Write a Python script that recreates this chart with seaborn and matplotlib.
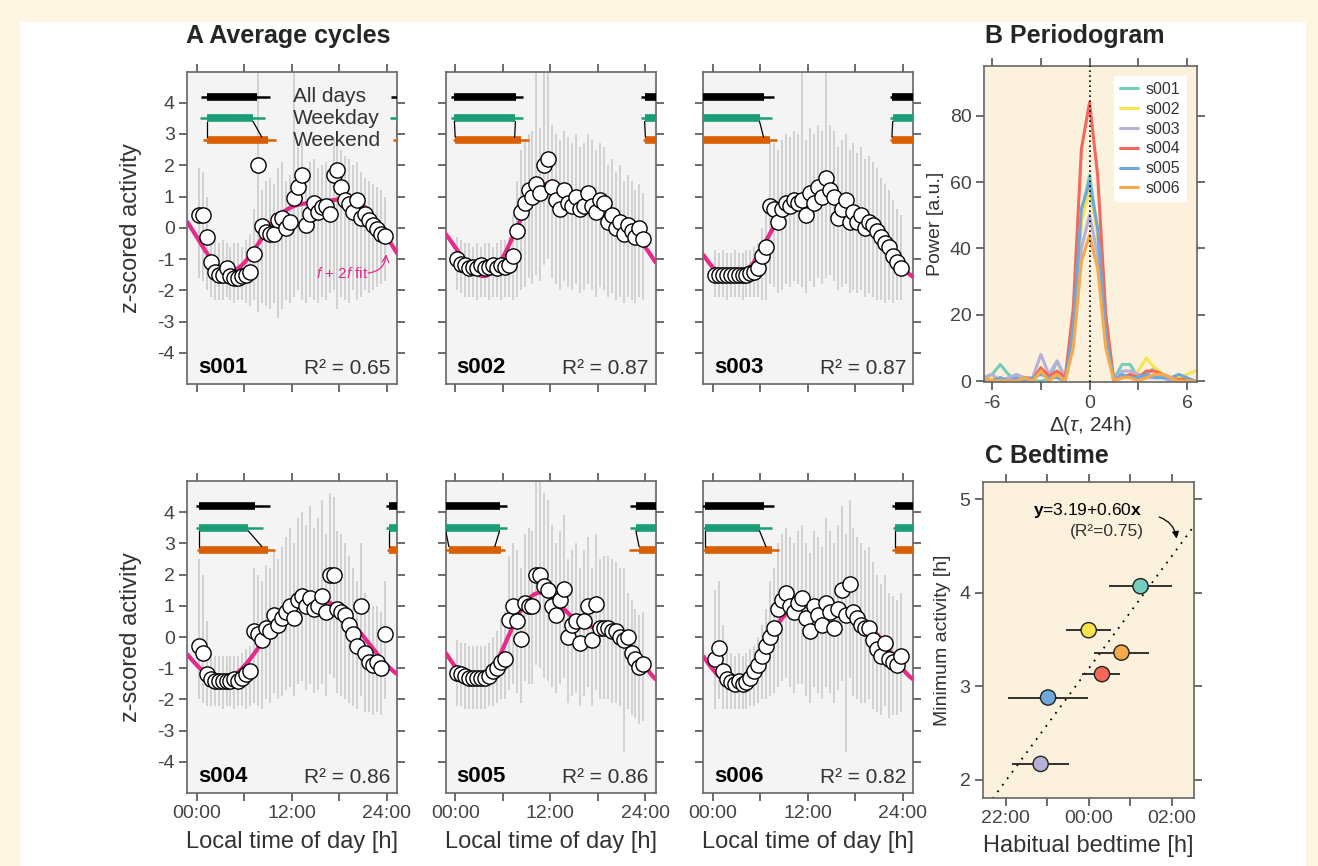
import numpy as np
import pandas as pd
import matplotlib
matplotlib.use("Agg")
import matplotlib.pyplot as plt
import seaborn as sns
from matplotlib.patches import Rectangle

sns.set_theme(style="ticks")
plt.rcParams['font.family'] = ['Liberation Sans', 'DejaVu Sans']
plt.rcParams['mathtext.fontset'] = 'custom'
plt.rcParams['mathtext.rm'] = 'Liberation Sans'
plt.rcParams['mathtext.it'] = 'Liberation Sans:italic'
plt.rcParams['mathtext.bf'] = 'Liberation Sans:bold'
plt.rcParams['axes.unicode_minus'] = False

# ---------------- data ----------------
subjects = ['s001', 's002', 's003', 's004', 's005', 's006']
r2_labels = ['0.65', '0.87', '0.87', '0.86', '0.86', '0.82']
half_hours = np.arange(0.25, 24.0, 0.5)

act_s001 = [0.4, 0.4, -0.3, -1.1, -1.4, -1.5, -1.5, -1.3, -1.55, -1.6, -1.6, -1.55, -1.5, -1.4, -0.85, 2.0,
            0.05, -0.15, -0.2, -0.2, 0.25, 0.3, 0.0, 0.2, 0.95, 1.3, 1.7, 0.1, 0.45, 0.8, 0.5, 0.65,
            0.7, 0.45, 1.7, 1.85, 1.3, 0.9, 0.75, 0.5, 0.9, 0.3, 0.45, 0.25, 0.1, -0.05, -0.2, -0.25]
act_s002 = [-1.0, -1.15, -1.2, -1.3, -1.25, -1.3, -1.2, -1.3, -1.25, -1.2, -1.3, -1.2, -1.25, -1.2, -0.9, -0.1,
            0.5, 0.8, 1.2, 1.0, 1.4, 1.1, 2.0, 2.2, 1.3, 0.9, 0.6, 1.2, 0.8, 0.7, 1.0, 0.6,
            0.7, 1.1, 0.7, 0.5, 0.9, 0.8, 0.2, 0.4, 0.0, 0.2, -0.2, 0.1, -0.1, -0.3, 0.0, -0.35]
act_s003 = [-1.5, -1.5, -1.5, -1.5, -1.5, -1.5, -1.5, -1.5, -1.5, -1.45, -1.4, -1.3, -0.9, -0.6, 0.7, 0.6,
            0.2, 0.6, 0.8, 0.7, 0.9, 0.8, 0.9, 0.4, 1.1, 0.8, 1.3, 1.0, 1.6, 1.2, 1.0, 0.3,
            0.6, 0.9, 0.2, 0.5, 0.2, 0.4, 0.0, 0.2, 0.1, -0.1, -0.3, -0.5, -0.6, -0.9, -1.1, -1.3]
act_s004 = [-0.3, -0.5, -1.2, -1.35, -1.4, -1.4, -1.4, -1.4, -1.4, -1.35, -1.4, -1.3, -1.2, -1.1, 0.2, 0.1,
            -0.1, 0.3, 0.2, 0.7, 0.4, 0.6, 0.8, 1.0, 0.6, 1.2, 1.3, 1.0, 1.25, 0.9, 1.0, 1.3,
            0.8, 2.0, 2.0, 0.9, 0.8, 0.7, 0.4, 0.1, -0.3, 1.0, -0.5, -0.8, -0.9, -0.8, -1.0, 0.1]
act_s005 = [-1.15, -1.2, -1.25, -1.3, -1.3, -1.3, -1.3, -1.3, -1.25, -1.1, -1.0, -0.8, -0.7, 0.55, 1.0, 0.5,
            -0.05, 1.1, 1.0, 1.0, 2.0, 2.0, 1.65, 1.5, 1.0, 0.7, 1.2, 1.55, 0.0, 0.4, 0.5, -0.2,
            0.5, 1.0, -0.1, 1.05, 0.3, 0.3, 0.3, 0.2, 0.2, 0.0, -0.1, 0.0, -0.5, -0.7, -0.95, -0.85]
act_s006 = [-0.7, -0.35, -1.1, -1.35, -1.45, -1.5, -1.4, -1.5, -1.45, -1.3, -1.1, -0.9, -0.6, -0.3, 0.0, 0.3,
            0.9, 1.2, 1.4, 1.0, 0.8, 1.1, 1.25, 0.6, 0.2, 1.0, 0.7, 0.4, 1.1, 0.8, 0.3, 0.9,
            1.5, 0.7, 1.7, 0.8, 0.6, 0.4, 0.3, 0.3, -0.1, -0.4, -0.6, -0.2, -0.7, -0.8, -0.9, -0.6]

hi_s001 = [1.9, 1.8, 1.0, -0.3, -0.4, -0.5, -0.4, -0.5, -0.6, -0.5, -0.5, -0.6, -0.4, -0.2, 0.6, 5.0,
           1.2, 1.5, 1.6, 1.4, 1.9, 2.1, 1.5, 1.7, 5.0, 2.6, 2.8, 1.8, 2.1, 2.2, 1.9, 2.0,
           2.1, 1.8, 2.9, 3.0, 2.5, 2.3, 2.2, 2.0, 2.1, 1.8, 1.6, 1.5, 1.4, 1.3, 1.2, 1.0]
lo_s001 = [-1.6, -1.7, -2.0, -2.2, -2.3, -2.3, -2.3, -2.2, -2.3, -2.4, -2.3, -2.3, -2.4, -2.5, -2.3, -2.7,
           -2.4, -2.5, -2.6, -2.4, -2.9, -2.6, -2.3, -2.4, -2.2, -2.0, -2.3, -2.4, -2.2, -2.3, -2.4, -2.2,
           -2.3, -2.1, -2.0, -2.6, -2.2, -2.3, -2.4, -2.0, -2.3, -2.2, -2.0, -2.1, -2.0, -1.9, -1.8, -1.7]
hi_s002 = [-0.3, -0.4, -0.5, -0.5, -0.6, -0.5, -0.6, -0.5, -0.5, -0.6, -0.5, -0.4, -0.4, -0.3, 0.4, 1.5,
           2.5, 2.8, 3.0, 3.1, 5.0, 3.2, 5.0, 5.0, 3.3, 3.0, 2.8, 3.1, 2.9, 2.7, 3.0, 2.6,
           2.7, 3.0, 2.8, 2.5, 2.7, 2.6, 2.0, 2.2, 1.8, 2.0, 1.5, 1.7, 1.5, 1.2, 1.4, 1.1]
lo_s002 = [-2.0, -2.1, -2.2, -2.2, -2.2, -2.3, -2.2, -2.2, -2.3, -2.2, -2.2, -2.3, -2.2, -2.2, -2.3, -2.2,
           -2.0, -1.9, -1.6, -1.8, -1.5, -1.7, -1.2, -1.0, -1.6, -1.8, -2.0, -1.7, -1.9, -2.0, -1.8, -2.1,
           -2.0, -1.8, -2.0, -2.2, -1.9, -2.0, -2.2, -2.1, -2.3, -2.2, -2.4, -2.2, -2.3, -2.4, -2.2, -2.3]
hi_s003 = [-0.7, -0.8, -0.7, -0.8, -0.8, -0.7, -0.8, -0.8, -0.7, -0.7, -0.6, -0.5, 0.0, 0.5, 2.8, 2.7,
           2.5, 2.8, 3.0, 2.9, 3.1, 3.0, 5.0, 2.8, 3.2, 3.0, 3.3, 3.1, 5.0, 3.3, 3.1, 2.6,
           2.8, 3.0, 2.5, 2.7, 2.4, 2.6, 2.2, 2.3, 2.1, 1.9, 1.6, 1.4, 1.2, 0.9, 0.6, 0.4]
lo_s003 = [-2.2, -2.2, -2.2, -2.3, -2.2, -2.2, -2.2, -2.3, -2.2, -2.2, -2.2, -2.2, -2.3, -2.3, -1.8, -1.9,
           -2.1, -2.0, -1.8, -1.9, -1.7, -1.8, -1.9, -2.1, -1.7, -1.9, -1.6, -1.8, -1.6, -1.5, -1.7, -2.0,
           -1.9, -1.8, -2.1, -2.0, -2.1, -2.0, -2.2, -2.1, -2.2, -2.3, -2.3, -2.4, -2.3, -2.4, -2.3, -2.3]
hi_s004 = [2.5, 2.0, 0.5, -0.5, -0.6, -0.6, -0.6, -0.6, -0.6, -0.6, -0.6, -0.5, -0.4, -0.3, 2.2, 2.0,
           1.8, 2.3, 2.2, 2.8, 2.5, 2.9, 3.2, 3.5, 3.0, 3.8, 4.0, 3.6, 4.2, 3.5, 3.8, 4.4,
           3.3, 4.6, 4.5, 3.4, 3.3, 3.0, 2.6, 2.2, 1.8, 3.0, 1.4, 1.1, 1.0, 1.0, 0.8, 1.8]
lo_s004 = [-2.0, -2.1, -2.2, -2.2, -2.2, -2.2, -2.3, -2.2, -2.2, -2.3, -2.2, -2.2, -2.3, -2.2, -2.1, -2.2,
           -2.3, -2.0, -2.1, -1.8, -2.0, -1.9, -1.7, -1.6, -1.9, -1.5, -1.4, -1.7, -1.5, -1.8, -1.7, -1.5,
           -1.9, -1.2, -1.3, -1.8, -1.9, -2.0, -2.1, -2.2, -2.3, -1.9, -2.4, -2.4, -2.5, -2.4, -2.5, -2.0]
hi_s005 = [-0.1, -0.2, -0.2, -0.3, -0.3, -0.3, -0.3, -0.3, -0.2, 0.0, 0.2, 0.6, 0.8, 2.6, 3.0, 2.8,
           2.2, 3.3, 3.5, 3.4, 5.0, 5.0, 4.6, 4.4, 3.6, 3.0, 3.4, 3.9, 2.5, 2.8, 3.0, 2.2,
           2.8, 3.2, 2.2, 3.3, 2.5, 2.6, 2.6, 2.5, 2.4, 2.2, 2.2, 1.4, 1.2, 0.9, 0.7, 0.8]
lo_s005 = [-2.2, -2.2, -2.3, -2.3, -2.3, -2.3, -2.3, -2.3, -2.2, -2.2, -2.1, -2.0, -2.0, -1.7, -1.5, -1.8,
           -2.1, -1.4, -1.5, -1.5, -0.9, -1.0, -1.3, -1.4, -1.6, -1.8, -1.5, -1.3, -2.1, -1.9, -1.8, -2.2,
           -1.9, -1.6, -2.2, -1.7, -2.0, -2.0, -2.0, -2.1, -2.1, -2.2, -3.7, -2.3, -2.5, -2.6, -2.8, -2.7]
hi_s006 = [1.5, 1.8, 0.4, -0.4, -0.5, -0.6, -0.5, -0.6, -0.5, -0.4, -0.3, 0.0, 0.4, 0.9, 1.8, 2.2,
           3.0, 3.3, 3.5, 3.2, 3.0, 3.4, 3.6, 3.0, 2.7, 3.4, 3.2, 2.9, 3.8, 3.4, 3.0, 3.6,
           4.2, 3.3, 4.4, 3.5, 3.2, 3.0, 2.8, 2.9, 2.4, 2.0, 1.7, 2.0, 1.4, 1.3, 1.2, 1.4]
lo_s006 = [-2.3, -2.0, -2.3, -2.3, -2.3, -2.3, -2.3, -2.3, -2.3, -2.2, -2.2, -2.1, -2.0, -2.0, -1.9, -1.8,
           -1.6, -1.4, -1.3, -1.6, -1.8, -1.5, -1.5, -1.9, -2.1, -1.6, -1.8, -2.0, -1.6, -1.8, -2.1, -1.7,
           -1.4, -3.7, -1.3, -1.9, -2.0, -2.1, -2.1, -2.0, -2.3, -2.4, -2.5, -2.2, -2.6, -2.5, -2.5, -2.4]

# sleep bars: [whisker start, box start, box end, whisker end] in hours
sleep_all = {'s001': [0.5, 1.3, 7.6, 9.2], 's002': [-0.5, -0.1, 7.7, 8.6], 's003': [-1.7, -1.4, 6.5, 7.7],
             's004': [-0.1, 0.3, 7.4, 9.2], 's005': [-2.0, -1.2, 5.6, 6.5], 's006': [-1.4, -1.0, 6.5, 7.7]}
sleep_weekday = {'s001': [0.4, 1.3, 7.1, 8.6], 's002': [-0.5, -0.1, 7.6, 8.6], 's003': [-1.6, -1.3, 5.9, 7.5],
                 's004': [-0.1, 0.3, 6.5, 8.3], 's005': [-1.9, -1.2, 5.6, 6.5], 's006': [-1.3, -1.0, 5.9, 7.5]}
sleep_weekend = {'s001': [0.8, 1.3, 9.0, 10.0], 's002': [-0.3, 0.0, 8.3, 9.3], 's003': [-1.7, -1.4, 7.2, 8.1],
                 's004': [0.0, 0.3, 9.0, 9.9], 's005': [-2.1, -0.8, 5.8, 6.3], 's006': [-1.4, -1.0, 7.5, 8.3]}

# periodogram
lag = [-6.5, -6, -5.5, -5, -4.5, -4, -3.5, -3, -2.5, -2, -1.5, -1, -0.5, 0,
       0.5, 1, 1.5, 2, 2.5, 3, 3.5, 4, 4.5, 5, 5.5, 6, 6.5]
pow_s001 = [1, 2, 5, 2, 0, 0, 0, 0, 0.5, 6, 1, 15, 50, 62, 45, 15, 0.5, 5, 5, 1, 2, 4, 2, 1, 1, 0.5, 0]
pow_s002 = [0, 1, 0, 0, 0, 0, 0, 3, 1, 2, 0, 14, 48, 58, 44, 14, 0, 2, 1, 3, 7, 4, 2, 1, 1, 2, 3]
pow_s003 = [1, 2, 0, 1, 2, 1, 1, 8, 2, 6, 1, 12, 40, 50, 38, 12, 0, 3, 3, 2, 1, 1, 1, 0, 0, 0, 0]
pow_s004 = [0, 0, 1, 0, 0, 1, 0.5, 4, 1.5, 3, 1, 22, 70, 84, 62, 20, 0, 1, 2, 1, 3, 3, 2, 1, 0.5, 0.5, 0]
pow_s005 = [0, 0, 1, 0, 1, 0, 1, 2, 1, 1, 0, 16, 52, 60, 46, 14, 0, 2, 1, 1, 2, 1, 1, 1, 2, 1, 0]
pow_s006 = [1, 0, 0, 0, 0, 1, 0, 3, 0, 2, 0, 10, 36, 44, 34, 10, 0, 1, 1, 0, 1, 2, 2, 1, 0, 0, 0]

# bedtime vs minimum activity (hours relative to midnight)
bed_mid = [1.25, 0.0, -1.16, 0.32, -0.98, 0.79]
bed_lo = [0.5, -0.55, -1.84, -0.16, -1.94, 0.12]
bed_hi = [2.0, 0.53, -0.48, 0.76, -0.02, 1.46]
min_act = [4.07, 3.60, 2.17, 3.13, 2.88, 3.36]
reg_intercept = 3.19
reg_slope = 0.60

colors = ['#74cdbf', '#f9e44e', '#b7b1d8', '#f4685a', '#6ea9d9', '#f8a94a']
palette = dict(zip(subjects, colors))

acts = [act_s001, act_s002, act_s003, act_s004, act_s005, act_s006]
his = [hi_s001, hi_s002, hi_s003, hi_s004, hi_s005, hi_s006]
los = [lo_s001, lo_s002, lo_s003, lo_s004, lo_s005, lo_s006]
pows = [pow_s001, pow_s002, pow_s003, pow_s004, pow_s005, pow_s006]

# ---------------- figure ----------------
W, H = 1318, 866
fig = plt.figure(figsize=(W / 100, H / 100), dpi=100, facecolor='#fdf6e3')
fig.patches.append(Rectangle((20 / W, 0), (1306 - 20) / W, 1 - 22 / H, transform=fig.transFigure,
                             facecolor='white', edgecolor='none', zorder=-10))


def fax(l, t, r, b):
    return fig.add_axes([l / W, 1 - b / H, (r - l) / W, (b - t) / H])


TXT = '#333333'
SPINE = '#666666'


def style(ax, face):
    ax.set_facecolor(face)
    for s in ax.spines.values():
        s.set_visible(True)
        s.set_color(SPINE)
        s.set_linewidth(1.2)
    ax.tick_params(direction='out', length=6, width=1.1, color='#444444', top=True, right=True,
                   labelsize=14, labelcolor='#444444', pad=3)


col_left = [187.3, 445.7, 703.3]
rows = [(71.5, 384), (481, 793)]
tgrid = np.linspace(-1.2, 25.3, 300)
w = 2 * np.pi / 24

for i, subj in enumerate(subjects):
    r, c = divmod(i, 3)
    ax = fax(col_left[c], rows[r][0], col_left[c] + 210, rows[r][1])
    style(ax, '#f4f4f4')
    y = np.array(acts[i])
    # harmonic regression (f + 2f)
    X = np.column_stack([np.ones_like(half_hours), np.cos(w * half_hours), np.sin(w * half_hours),
                         np.cos(2 * w * half_hours), np.sin(2 * w * half_hours)])
    beta = np.linalg.lstsq(X, y, rcond=None)[0]
    Xg = np.column_stack([np.ones_like(tgrid), np.cos(w * tgrid), np.sin(w * tgrid),
                          np.cos(2 * w * tgrid), np.sin(2 * w * tgrid)])
    fit = Xg @ beta
    ax.vlines(half_hours, los[i], his[i], color='#c8c8c8', lw=1.1, zorder=1)
    sns.lineplot(x=tgrid, y=fit, ax=ax, color='#e7298a', lw=3, zorder=3)
    sns.scatterplot(x=half_hours, y=y, ax=ax, s=120, color='white', edgecolor='black',
                    linewidth=1.0, zorder=4, legend=False)
    # sleep bars
    for vals, yy, col in [(sleep_all[subj], 4.2, 'black'), (sleep_weekday[subj], 3.5, '#1b9e77'),
                          (sleep_weekend[subj], 2.8, '#d95f02')]:
        for off in (0, 24):
            ax.plot([vals[0] + off, vals[3] + off], [yy, yy], color=col, lw=1.8, zorder=5,
                    solid_capstyle='butt')
            ax.plot([vals[1] + off, vals[2] + off], [yy, yy], color=col, lw=5.5, zorder=5,
                    solid_capstyle='butt')
    wk, we = sleep_weekday[subj], sleep_weekend[subj]
    for off in (0, 24):
        ax.plot([wk[1] + off, we[1] + off], [3.4, 2.9], color='black', lw=0.9, zorder=5)
        ax.plot([wk[2] + off, we[2] - 0.8 + off], [3.4, 2.9], color='black', lw=0.9, zorder=5)
    ax.set_xlim(-1.2, 25.3)
    ax.set_ylim(-5, 5)
    ax.set_xticks([0, 6, 12, 18, 24])
    ax.set_xticklabels(['00:00', '', '12:00', '', '24:00'])
    ax.set_yticks(range(-4, 5))
    ax.tick_params(labelbottom=(r == 1), labelleft=(c == 0))
    ax.set_xlabel('Local time of day [h]' if r == 1 else '', fontsize=17, color=TXT, labelpad=6)
    ax.set_ylabel('')
    ax.text(0.05, 0.02, subj, transform=ax.transAxes, fontsize=16, fontweight='bold',
            color='black', ha='left', va='bottom')
    ax.text(0.965, 0.02, 'R² = ' + r2_labels[i], transform=ax.transAxes, fontsize=15,
            color=TXT, ha='right', va='bottom')
    if i == 0:
        for lab, yy in [('All days', 4.2), ('Weekday', 3.5), ('Weekend', 2.8)]:
            ax.text(12.1, yy, lab, fontsize=15, color=TXT, va='center', ha='left', zorder=6)
        ax.text(15.1, -1.45, '$f$ + 2$f$ fit', fontsize=11, color='#e7298a', va='center', ha='left')
        ax.annotate('', xy=(23.9, -0.85), xytext=(21.6, -1.45),
                    arrowprops=dict(arrowstyle='->', color='#e7298a', lw=0.9,
                                    connectionstyle='arc3,rad=0.4', shrinkA=0, shrinkB=0))

for r in range(2):
    yc = 1 - (rows[r][0] + rows[r][1]) / 2 / H
    fig.text(131 / W, yc, 'z-scored activity', rotation=90, fontsize=17, color=TXT,
             ha='center', va='center')

fig.text(186 / W, 1 - 36 / H, 'A Average cycles', fontsize=18, fontweight='bold', va='center')
fig.text(985 / W, 1 - 36 / H, 'B Periodogram', fontsize=18, fontweight='bold', va='center')
fig.text(985 / W, 1 - 456 / H, 'C Bedtime', fontsize=18, fontweight='bold', va='center')

# ---------------- B periodogram ----------------
axB = fax(984, 66, 1196.7, 382)
style(axB, '#fcf1dc')
df = pd.DataFrame({'lag': np.tile(lag, len(subjects)),
                   'power': np.concatenate(pows),
                   'subject': np.repeat(subjects, len(lag))})
sns.lineplot(data=df, x='lag', y='power', hue='subject', palette=palette, lw=2.2, ax=axB)
axB.axvline(0, color='black', ls=(0, (1, 2)), lw=1.2, zorder=10)
axB.set_xlim(-6.5, 6.6)
axB.set_ylim(-0.3, 95)
axB.set_xticks([-6, -3, 0, 3, 6])
axB.set_xticklabels(['-6', '', '0', '', '6'])
axB.set_yticks([0, 20, 40, 60, 80])
axB.set_xlabel('Δ($\\tau$, 24h)', fontsize=15, color=TXT, labelpad=2)
axB.set_ylabel('Power [a.u.]', fontsize=14, color=TXT, labelpad=4)
leg = axB.legend(loc='upper right', frameon=True, fontsize=11.5, handlelength=1.1, handletextpad=0.5,
                 borderaxespad=0.6, labelspacing=0.3, title=None)
leg.get_frame().set_facecolor('white')
leg.get_frame().set_edgecolor('none')
leg.get_frame().set_alpha(1)
for t in leg.get_texts():
    t.set_color(TXT)

# ---------------- C bedtime ----------------
axC = fax(983, 482.4, 1194.4, 797.6)
style(axC, '#fcf1dc')
xl = np.array([-2.55, 2.55])
sns.lineplot(x=xl, y=reg_intercept + reg_slope * xl, ax=axC, color='black', lw=1.3,
             linestyle=(0, (1, 3.5)), zorder=2)
axC.hlines(min_act, bed_lo, bed_hi, color='#222222', lw=1.3, zorder=3)
dC = pd.DataFrame({'bed': bed_mid, 'minact': min_act, 'subject': subjects})
sns.scatterplot(data=dC, x='bed', y='minact', hue='subject', palette=palette, s=120,
                edgecolor='#222222', linewidth=1.0, zorder=4, legend=False, ax=axC)
axC.set_xlim(-2.55, 2.55)
axC.set_ylim(1.81, 5.18)
axC.set_xticks([-2, -1, 0, 1, 2])
axC.set_xticklabels(['22:00', '', '00:00', '', '02:00'])
axC.set_yticks([2, 3, 4, 5])
axC.set_xlabel('Habitual bedtime [h]', fontsize=17, color=TXT, labelpad=6)
axC.set_ylabel('Minimum activity [h]', fontsize=14, color=TXT, labelpad=6)
axC.text(-1.35, 4.88, '$\\mathbf{y}$=3.19+0.60$\\mathbf{x}$', fontsize=12.5, color='black',
         ha='left', va='center')
axC.text(1.33, 4.66, '(R²=0.75)', fontsize=12.5, color=TXT, ha='right', va='center')
axC.annotate('', xy=(2.12, 4.58), xytext=(1.7, 4.81),
             arrowprops=dict(arrowstyle='-|>', color='black', lw=0.9, mutation_scale=10,
                             connectionstyle='arc3,rad=-0.3', shrinkA=0, shrinkB=0))

fig.savefig('out.png', dpi=100, facecolor=fig.get_facecolor())
